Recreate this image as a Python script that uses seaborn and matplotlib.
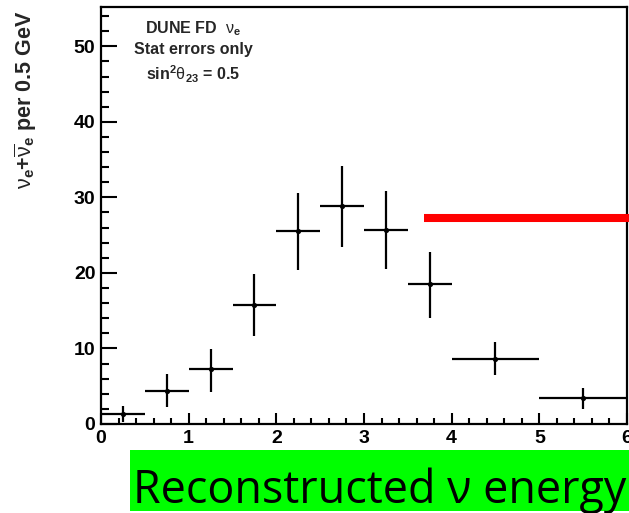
import numpy as np
import pandas as pd
import matplotlib
matplotlib.use("Agg")
import matplotlib.pyplot as plt
import seaborn as sns
from matplotlib.ticker import MultipleLocator
from matplotlib.patches import Rectangle

# ---- data ----
bin_lo = [0.0, 0.5, 1.0, 1.5, 2.0, 2.5, 3.0, 3.5, 4.0, 5.0]
bin_hi = [0.5, 1.0, 1.5, 2.0, 2.5, 3.0, 3.5, 4.0, 5.0, 6.0]
counts = [1.3, 4.4, 7.3, 15.8, 25.5, 28.8, 25.7, 18.5, 8.6, 3.4]
err_up = [1.1, 2.2, 2.6, 4.0, 5.1, 5.4, 5.1, 4.3, 2.2, 1.4]
err_dn = [1.0, 2.2, 3.0, 4.1, 5.1, 5.4, 5.2, 4.5, 2.1, 1.4]
red_x = [3.68, 6.05]
red_y = [27.3, 27.3]

x_ticks = [0, 1, 2, 3, 4, 5, 6]
y_ticks = [0, 10, 20, 30, 40, 50]

df = pd.DataFrame({"lo": bin_lo, "hi": bin_hi, "y": counts,
                   "eu": err_up, "ed": err_dn})
df["x"] = (df["lo"] + df["hi"]) / 2
df["xe"] = (df["hi"] - df["lo"]) / 2

sns.set_style("ticks")
plt.rcParams["font.family"] = ["Liberation Sans", "DejaVu Sans"]
plt.rcParams["mathtext.fontset"] = "custom"
plt.rcParams["mathtext.rm"] = "Liberation Sans"
plt.rcParams["mathtext.it"] = "Liberation Sans"
plt.rcParams["mathtext.bf"] = "Liberation Sans:bold"
plt.rcParams["mathtext.default"] = "rm"

fig = plt.figure(figsize=(6.29, 5.13), dpi=100)
ax = fig.add_axes([101/629, 1-424/513, 526/629, 417/513])

ax.errorbar(df["x"], df["y"], xerr=df["xe"], yerr=[df["ed"], df["eu"]],
            fmt="none", ecolor="black", elinewidth=1.6, capsize=0, zorder=3)
sns.scatterplot(data=df, x="x", y="y", ax=ax, color="black", s=14,
                edgecolor="black", linewidth=0, zorder=4, legend=False)
ax.plot(red_x, red_y, color="#ff0000", lw=5.8, solid_capstyle="butt",
        clip_on=False, zorder=5)

ax.set_xlim(0, 6)
ax.set_ylim(0, 55.2)
ax.set_xticks(x_ticks)
ax.set_yticks(y_ticks)
ax.xaxis.set_minor_locator(MultipleLocator(0.2))
ax.yaxis.set_minor_locator(MultipleLocator(2))
ax.tick_params(axis="both", which="both", direction="in", width=1.5,
               colors="black", top=False, right=False)
ax.tick_params(axis="y", which="major", length=11.5, pad=4)
ax.tick_params(axis="y", which="minor", length=5.8)
ax.tick_params(axis="x", which="major", length=8, pad=4)
ax.tick_params(axis="x", which="minor", length=4)
for lab in ax.get_xticklabels() + ax.get_yticklabels():
    lab.set_fontweight("bold")
    lab.set_fontsize(14)
ax.set_xlabel("")
ax.set_ylabel("")
for sp in ax.spines.values():
    sp.set_visible(True)
    sp.set_linewidth(1.6)
    sp.set_color("black")

fig.text(26/629, 1-100/513,
         r"$\nu_{\mathbf{e}}$+$\overline{\nu}_{\mathbf{e}}$ per 0.5 GeV",
         rotation=90, ha="center", va="center", fontsize=15.5,
         fontweight="bold")

ax.text(0.175, 0.948, r"DUNE FD  $\nu_{\mathbf{e}}$", transform=ax.transAxes,
        ha="center", va="center", fontsize=11.5, fontweight="bold")
ax.text(0.175, 0.898, "Stat errors only", transform=ax.transAxes,
        ha="center", va="center", fontsize=11.5, fontweight="bold")
ax.text(0.175, 0.838, r"sin$^{\mathbf{2}}\theta_{\mathbf{23}}$ = 0.5",
        transform=ax.transAxes, ha="center", va="center", fontsize=11.5,
        fontweight="bold")

fig.patches.append(Rectangle((130/629, 2/513), 1 - 130/629, 61/513,
                             transform=fig.transFigure, facecolor="#00ff00",
                             edgecolor="none", zorder=0))
fig.text(133/629, 1-503/513, "Reconstructed \u03bd energy", ha="left",
         va="baseline", fontsize=32.3, family=["Open Sans", "DejaVu Sans"],
         color="black")

fig.savefig("out.png", dpi=100)
